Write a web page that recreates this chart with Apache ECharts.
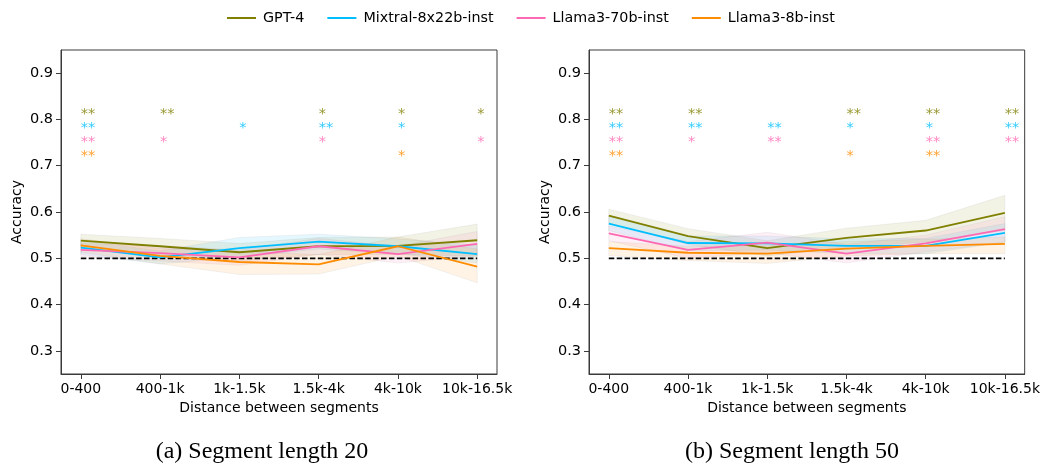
<!DOCTYPE html>
<html>
<head>
<meta charset="utf-8">
<script src="https://cdn.jsdelivr.net/npm/echarts@6/dist/echarts.min.js"></script>
<style>
html,body{margin:0;padding:0;background:#fff;}
#chart{width:1043px;height:464px;}
</style>
</head>
<body>
<div id="chart"></div>
<script>
// ---------- DATA ----------
const categories = ['0-400', '400-1k', '1k-1.5k', '1.5k-4k', '4k-10k', '10k-16.5k'];
const seriesNames = ['GPT-4', 'Mixtral-8x22b-inst', 'Llama3-70b-inst', 'Llama3-8b-inst'];
const yTicks = [0.3, 0.4, 0.5, 0.6, 0.7, 0.8, 0.9];
const baseline = 0.5;

// Panel (a): Segment length 20
const a_gpt4      = [0.538, 0.526, 0.513, 0.526, 0.527, 0.539];
const a_mixtral   = [0.523, 0.502, 0.522, 0.536, 0.526, 0.509];
const a_llama70   = [0.518, 0.511, 0.502, 0.526, 0.509, 0.531];
const a_llama8    = [0.528, 0.505, 0.492, 0.487, 0.526, 0.482];
const a_gpt4_lo    = [0.524, 0.508, 0.494, 0.508, 0.508, 0.505];
const a_gpt4_hi    = [0.552, 0.543, 0.532, 0.545, 0.546, 0.574];
const a_mixtral_lo = [0.508, 0.488, 0.502, 0.520, 0.510, 0.490];
const a_mixtral_hi = [0.538, 0.516, 0.545, 0.552, 0.542, 0.528];
const a_llama70_lo = [0.504, 0.494, 0.485, 0.508, 0.490, 0.505];
const a_llama70_hi = [0.532, 0.527, 0.518, 0.543, 0.526, 0.558];
const a_llama8_lo  = [0.513, 0.488, 0.465, 0.466, 0.505, 0.447];
const a_llama8_hi  = [0.542, 0.521, 0.515, 0.508, 0.546, 0.520];

// Panel (b): Segment length 50
const b_gpt4      = [0.592, 0.548, 0.522, 0.544, 0.560, 0.598];
const b_mixtral   = [0.575, 0.533, 0.532, 0.527, 0.527, 0.555];
const b_llama70   = [0.554, 0.518, 0.534, 0.510, 0.532, 0.563];
const b_llama8    = [0.522, 0.512, 0.510, 0.521, 0.527, 0.531];
const b_gpt4_lo    = [0.576, 0.530, 0.505, 0.524, 0.535, 0.560];
const b_gpt4_hi    = [0.606, 0.564, 0.538, 0.565, 0.582, 0.636];
const b_mixtral_lo = [0.560, 0.516, 0.518, 0.510, 0.510, 0.535];
const b_mixtral_hi = [0.590, 0.548, 0.548, 0.542, 0.543, 0.575];
const b_llama70_lo = [0.538, 0.500, 0.512, 0.490, 0.514, 0.535];
const b_llama70_hi = [0.570, 0.536, 0.556, 0.530, 0.550, 0.590];
const b_llama8_lo  = [0.506, 0.495, 0.489, 0.505, 0.510, 0.510];
const b_llama8_hi  = [0.536, 0.526, 0.527, 0.536, 0.541, 0.546];

// Significance marks (per series, per category)
const a_stars = [
  ['**', '**', '', '*', '*', '*'],
  ['**', '', '*', '**', '*', ''],
  ['**', '*', '', '*', '', '*'],
  ['**', '', '', '', '*', '']
];
const b_stars = [
  ['**', '**', '', '**', '**', '**'],
  ['**', '**', '**', '*', '*', '**'],
  ['**', '*', '**', '', '**', '**'],
  ['**', '', '', '*', '**', '']
];
const starRows = [0.815, 0.785, 0.755, 0.725];
const captions = ['(a) Segment length 20', '(b) Segment length 50'];
const xAxisTitle = 'Distance between segments';
const yAxisTitle = 'Accuracy';

// ---------- STYLE ----------
const colors = ['#808000', '#00BFFF', '#FF69B4', '#FF8C00'];
const FONT = '"DejaVu Sans", sans-serif';
const panels = [
  { means: [a_gpt4, a_mixtral, a_llama70, a_llama8],
    lo: [a_gpt4_lo, a_mixtral_lo, a_llama70_lo, a_llama8_lo],
    hi: [a_gpt4_hi, a_mixtral_hi, a_llama70_hi, a_llama8_hi],
    stars: a_stars, left: 61 },
  { means: [b_gpt4, b_mixtral, b_llama70, b_llama8],
    lo: [b_gpt4_lo, b_mixtral_lo, b_llama70_lo, b_llama8_lo],
    hi: [b_gpt4_hi, b_mixtral_hi, b_llama70_hi, b_llama8_hi],
    stars: b_stars, left: 589 }
];

const grids = [], xAxes = [], yAxes = [], series = [];
const xIdx = categories.map((c, i) => i);

panels.forEach((p, pi) => {
  grids.push({ left: p.left, top: 50, width: 436, height: 324, show: true,
    borderColor: '#3a3a3a', borderWidth: 1, backgroundColor: 'transparent' });
  xAxes.push({
    gridIndex: pi, type: 'value', min: -0.25, max: 5.25,
    name: xAxisTitle, nameLocation: 'middle', nameGap: 26,
    nameTextStyle: { fontFamily: FONT, fontSize: 14, color: '#000' },
    axisLine: { show: true, onZero: false, lineStyle: { color: '#3a3a3a', width: 1 } },
    axisTick: { show: true, length: 5, customValues: xIdx, lineStyle: { color: '#3a3a3a' } },
    axisLabel: { customValues: xIdx, margin: 8, fontFamily: FONT, fontSize: 14, color: '#000',
      formatter: v => categories[Math.round(v)] },
    splitLine: { show: false }
  });
  yAxes.push({
    gridIndex: pi, type: 'value', min: 0.25, max: 0.95,
    name: yAxisTitle, nameLocation: 'middle', nameGap: 37,
    nameTextStyle: { fontFamily: FONT, fontSize: 14, color: '#000' },
    axisLine: { show: true, onZero: false, lineStyle: { color: '#3a3a3a', width: 1 } },
    axisTick: { show: true, length: 5, customValues: yTicks, lineStyle: { color: '#3a3a3a' } },
    axisLabel: { customValues: yTicks, margin: 8, fontFamily: FONT, fontSize: 14.5, color: '#000',
      formatter: v => v.toFixed(1) },
    splitLine: { show: false }
  });

  // confidence bands
  p.means.forEach((m, si) => {
    const lo = p.lo[si], hi = p.hi[si];
    series.push({
      type: 'custom', name: seriesNames[si] + ' band', xAxisIndex: pi, yAxisIndex: pi,
      silent: true, z: 1,
      data: [[0, baseline]],
      renderItem: function (params, api) {
        const pts = [];
        for (let i = 0; i < categories.length; i++) pts.push(api.coord([i, hi[i]]));
        for (let i = categories.length - 1; i >= 0; i--) pts.push(api.coord([i, lo[i]]));
        return { type: 'polygon', shape: { points: pts },
          style: { fill: colors[si], opacity: 0.1, stroke: 'rgba(120,120,120,0.9)', lineWidth: 1 } };
      }
    });
  });

  // baseline dashed
  series.push({
    type: 'line', name: 'baseline', xAxisIndex: pi, yAxisIndex: pi, symbol: 'none', silent: true,
    data: [[0, baseline], [categories.length - 1, baseline]], z: 3,
    lineStyle: { color: '#000', width: 1.8, type: [5.5, 2.4] }
  });

  // mean lines
  p.means.forEach((m, si) => {
    series.push({
      type: 'line', name: seriesNames[si], xAxisIndex: pi, yAxisIndex: pi,
      symbol: 'none', z: 4, color: colors[si],
      data: m.map((v, i) => [i, v]),
      lineStyle: { color: colors[si], width: 1.8 }
    });
  });

  // stars
  p.stars.forEach((row, si) => {
    series.push({
      type: 'scatter', name: seriesNames[si] + ' sig', xAxisIndex: pi, yAxisIndex: pi,
      symbolSize: 0, silent: true, z: 5,
      data: row.map((s, i) => ({ value: [i, starRows[si]], name: s })).filter(d => d.name),
      label: { show: true, position: [0, 0], align: 'left', verticalAlign: 'middle', offset: [0, 2],
        formatter: '{b}', fontFamily: FONT, fontSize: 14.5, color: colors[si], opacity: 0.8 }
    });
  });
});

const chart = echarts.init(document.getElementById('chart'), null, { renderer: 'canvas' });
chart.setOption({
  backgroundColor: '#fff',
  animation: false,
  legend: {
    data: seriesNames.map(n => ({ name: n, icon: 'rect' })),
    left: 222, top: 6, itemWidth: 29, itemHeight: 2, itemGap: 23,
    textStyle: { fontFamily: FONT, fontSize: 14.3, color: '#000', padding: [0, 0, 0, 2] }
  },
  grid: grids, xAxis: xAxes, yAxis: yAxes, series: series,
  graphic: [
    { type: 'text', x: 262, y: 452, style: { text: captions[0], font: '24px "Liberation Serif", serif',
      fill: '#000', textAlign: 'center', textVerticalAlign: 'middle' } },
    { type: 'text', x: 792, y: 452, style: { text: captions[1], font: '24px "Liberation Serif", serif',
      fill: '#000', textAlign: 'center', textVerticalAlign: 'middle' } }
  ]
});
</script>
</body>
</html>
